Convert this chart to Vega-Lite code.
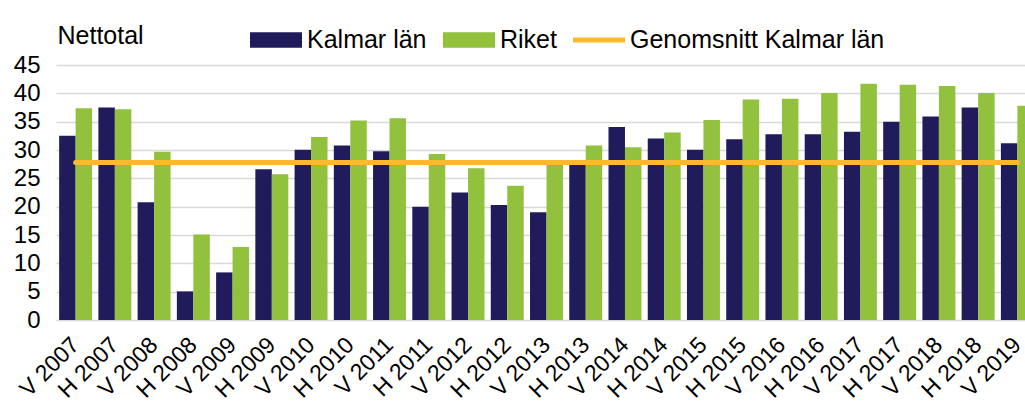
{
  "$schema": "https://vega.github.io/schema/vega-lite/v6.json",
  "width": 969,
  "height": 255,
  "autosize": {"type": "none"},
  "padding": {"left": 56, "top": 65, "right": 0, "bottom": 86},
  "background": "white",
  "config": {
    "font": "Liberation Sans",
    "view": {"stroke": null},
    "axis": {"labelFont": "Liberation Sans", "labelColor": "#000000", "titleFont": "Liberation Sans", "titleColor": "#000000"}
  },
  "datasets": {
    "bars": [
      {"period": "V 2007", "series": "Kalmar län", "value": 32.5},
      {"period": "V 2007", "series": "Riket", "value": 37.35},
      {"period": "H 2007", "series": "Kalmar län", "value": 37.5},
      {"period": "H 2007", "series": "Riket", "value": 37.2},
      {"period": "V 2008", "series": "Kalmar län", "value": 20.8},
      {"period": "V 2008", "series": "Riket", "value": 29.7},
      {"period": "H 2008", "series": "Kalmar län", "value": 5.05},
      {"period": "H 2008", "series": "Riket", "value": 15.1},
      {"period": "V 2009", "series": "Kalmar län", "value": 8.4},
      {"period": "V 2009", "series": "Riket", "value": 12.9},
      {"period": "H 2009", "series": "Kalmar län", "value": 26.6},
      {"period": "H 2009", "series": "Riket", "value": 25.7},
      {"period": "V 2010", "series": "Kalmar län", "value": 30.05},
      {"period": "V 2010", "series": "Riket", "value": 32.3},
      {"period": "H 2010", "series": "Kalmar län", "value": 30.8},
      {"period": "H 2010", "series": "Riket", "value": 35.2},
      {"period": "V 2011", "series": "Kalmar län", "value": 29.8},
      {"period": "V 2011", "series": "Riket", "value": 35.6},
      {"period": "H 2011", "series": "Kalmar län", "value": 20.0},
      {"period": "H 2011", "series": "Riket", "value": 29.3},
      {"period": "V 2012", "series": "Kalmar län", "value": 22.5},
      {"period": "V 2012", "series": "Riket", "value": 26.8},
      {"period": "H 2012", "series": "Kalmar län", "value": 20.3},
      {"period": "H 2012", "series": "Riket", "value": 23.7},
      {"period": "V 2013", "series": "Kalmar län", "value": 19.0},
      {"period": "V 2013", "series": "Riket", "value": 27.5},
      {"period": "H 2013", "series": "Kalmar län", "value": 28.0},
      {"period": "H 2013", "series": "Riket", "value": 30.8},
      {"period": "V 2014", "series": "Kalmar län", "value": 34.05},
      {"period": "V 2014", "series": "Riket", "value": 30.5},
      {"period": "H 2014", "series": "Kalmar län", "value": 32.05},
      {"period": "H 2014", "series": "Riket", "value": 33.1},
      {"period": "V 2015", "series": "Kalmar län", "value": 30.05},
      {"period": "V 2015", "series": "Riket", "value": 35.3},
      {"period": "H 2015", "series": "Kalmar län", "value": 31.9},
      {"period": "H 2015", "series": "Riket", "value": 38.9},
      {"period": "V 2016", "series": "Kalmar län", "value": 32.8},
      {"period": "V 2016", "series": "Riket", "value": 39.05},
      {"period": "H 2016", "series": "Kalmar län", "value": 32.8},
      {"period": "H 2016", "series": "Riket", "value": 40.05},
      {"period": "V 2017", "series": "Kalmar län", "value": 33.2},
      {"period": "V 2017", "series": "Riket", "value": 41.7},
      {"period": "H 2017", "series": "Kalmar län", "value": 35.0},
      {"period": "H 2017", "series": "Riket", "value": 41.5},
      {"period": "V 2018", "series": "Kalmar län", "value": 35.9},
      {"period": "V 2018", "series": "Riket", "value": 41.3},
      {"period": "H 2018", "series": "Kalmar län", "value": 37.5},
      {"period": "H 2018", "series": "Riket", "value": 40.05},
      {"period": "V 2019", "series": "Kalmar län", "value": 31.2},
      {"period": "V 2019", "series": "Riket", "value": 37.8}
    ],
    "avg": [
      {"period": "V 2007", "series": "Genomsnitt Kalmar län", "value": 27.8},
      {"period": "V 2019", "series": "Genomsnitt Kalmar län", "value": 27.8}
    ]
  },
  "encoding": {
    "x": {
      "field": "period",
      "type": "nominal",
      "sort": null,
      "scale": {
        "domain": ["V 2007","H 2007","V 2008","H 2008","V 2009","H 2009","V 2010","H 2010","V 2011","H 2011","V 2012","H 2012","V 2013","H 2013","V 2014","H 2014","V 2015","H 2015","V 2016","H 2016","V 2017","H 2017","V 2018","H 2018","V 2019"],
        "range": [0, 981],
        "paddingInner": 0.16,
        "paddingOuter": 0.08
      },
      "axis": {
        "title": null,
        "domain": false,
        "ticks": false,
        "labelAngle": -45,
        "labelBaseline": "middle",
        "labelPadding": 21,
        "labelDx": -2,
        "labelFontSize": 23,
        "labelBound": false,
        "labelOverlap": false
      }
    },
    "y": {
      "field": "value",
      "type": "quantitative",
      "scale": {"domain": [0, 45], "nice": false},
      "axis": {
        "title": "Nettotal",
        "titleAngle": 0,
        "titleAlign": "left",
        "titleBaseline": "alphabetic",
        "titleX": 1,
        "titleY": -22,
        "titleFontSize": 25,
        "titleFontWeight": "normal",
        "values": [0, 5, 10, 15, 20, 25, 30, 35, 40, 45],
        "domain": false,
        "ticks": false,
        "gridColor": "#d9d9d9",
        "gridWidth": 1.5,
        "labelPadding": 16,
        "labelFontSize": 24
      }
    },
    "color": {
      "field": "series",
      "type": "nominal",
      "scale": {
        "domain": ["Kalmar län", "Riket", "Genomsnitt Kalmar län"],
        "range": ["#201C5C", "#92C13E", "#FBB92D"]
      },
      "legend": {
        "title": null,
        "orient": "none",
        "direction": "horizontal",
        "legendX": 194,
        "legendY": -51,
        "symbolSize": 2704,
        "symbolType": "M-1,-0.3H1V0.3H-1Z",
        "labelFontSize": 25,
        "labelFont": "Liberation Sans",
        "labelColor": "#000000",
        "labelLimit": 0,
        "labelOffset": 5,
        "columnPadding": 16,
        "encode": {
          "symbols": {
            "update": {
              "shape": {"signal": "datum.value === 'Genomsnitt Kalmar län' ? 'M-1,-0.1H1V0.1H-1Z' : 'M-1,-0.3H1V0.3H-1Z'"},
              "fill": {"scale": "color", "field": "value"},
              "stroke": {"value": "transparent"},
              "strokeWidth": {"value": 0},
              "opacity": {"value": 1}
            }
          }
        }
      }
    }
  },
  "layer": [
    {
      "data": {"name": "bars"},
      "mark": {"type": "bar", "clip": true},
      "encoding": {
        "xOffset": {"field": "series", "type": "nominal", "sort": ["Kalmar län", "Riket"]}
      }
    },
    {
      "data": {"name": "avg"},
      "mark": {"type": "line", "strokeWidth": 5, "strokeCap": "round", "clip": true},
      "encoding": {}
    }
  ]
}
